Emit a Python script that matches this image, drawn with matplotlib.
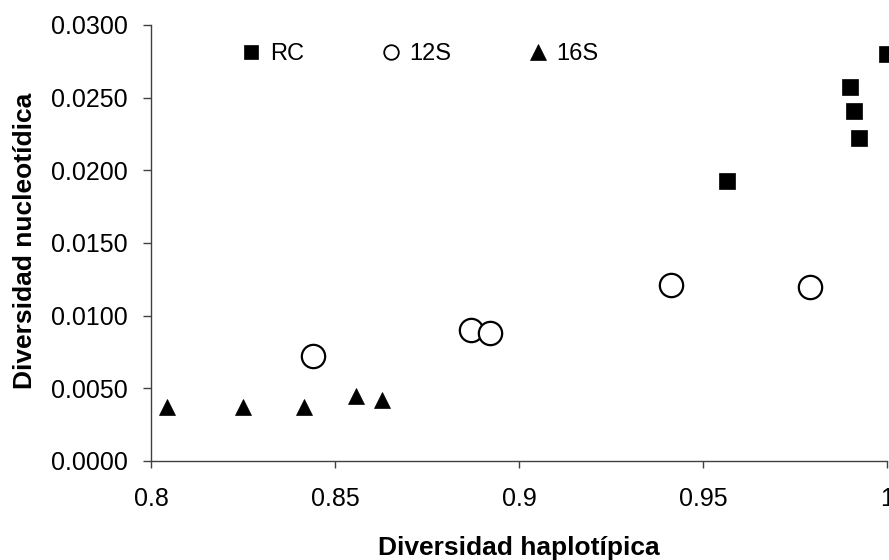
import matplotlib
matplotlib.use("Agg")
import matplotlib.pyplot as plt
from matplotlib.lines import Line2D
from matplotlib.ticker import FuncFormatter, MultipleLocator

plt.rcParams['font.family'] = ['Liberation Sans', 'DejaVu Sans']

# Data
rc_x = [0.9566, 0.9899, 0.9911, 0.9925, 1.0000]
rc_y = [0.0193, 0.0257, 0.0241, 0.0222, 0.0280]
s12_x = [0.8441, 0.8869, 0.8921, 0.9412, 0.9791]
s12_y = [0.0072, 0.0090, 0.0088, 0.0121, 0.0120]
s16_x = [0.8044, 0.8249, 0.8416, 0.8556, 0.8627]
s16_y = [0.0037, 0.0037, 0.0037, 0.0045, 0.0042]
series_names = ["RC", "12S", "16S"]
x_label = "Diversidad haplotípica"
y_label = "Diversidad nucleotídica"

fig = plt.figure(figsize=(8.89, 5.6), dpi=100)
ax = fig.add_axes([151/889, 1-461/560, (887-151)/889, (461-25)/560])

ax.plot(rc_x, rc_y, linestyle='none', marker='s', ms=11, mfc='black', mec='black', mew=0.5, clip_on=False, zorder=3)
ax.plot(s12_x, s12_y, linestyle='none', marker='o', ms=16.8, mfc='white', mec='black', mew=1.6, clip_on=False, zorder=3)
ax.plot(s16_x, s16_y, linestyle='none', marker='^', ms=11.5, mfc='black', mec='black', mew=0.5, clip_on=False, zorder=3)

ax.set_xlim(0.8, 1.0)
ax.set_ylim(0.0, 0.03)
ax.xaxis.set_major_locator(MultipleLocator(0.05))
ax.yaxis.set_major_locator(MultipleLocator(0.005))
ax.xaxis.set_major_formatter(FuncFormatter(lambda v, p: f"{v:.2f}".rstrip('0').rstrip('.')))
ax.yaxis.set_major_formatter(FuncFormatter(lambda v, p: f"{v:.4f}"))

for s in ['top', 'right']:
    ax.spines[s].set_visible(False)
for s in ['left', 'bottom']:
    ax.spines[s].set_color('#404040')
    ax.spines[s].set_linewidth(1.0)

ax.tick_params(axis='x', direction='out', length=5, width=1, color='#404040', pad=14, labelsize=18)
ax.tick_params(axis='y', direction='out', length=5.5, width=1, color='#404040', pad=11, labelsize=18)

ax.set_xlabel(x_label, fontsize=19, fontweight='bold')
ax.xaxis.label.set_va('baseline')
ax.xaxis.set_label_coords(0.5, (461-555)/436)
ax.set_ylabel(y_label, fontsize=19, fontweight='bold')
ax.yaxis.label.set_va('center')
ax.yaxis.set_label_coords((25-151)/736, (461-241)/436)

handles = [
    Line2D([], [], linestyle='none', marker='s', ms=10.5, mfc='black', mec='black', mew=0.5),
    Line2D([], [], linestyle='none', marker='o', ms=10.5, mfc='white', mec='black', mew=1.3),
    Line2D([], [], linestyle='none', marker='^', ms=11.5, mfc='black', mec='black', mew=0.5),
]
leg = fig.legend(handles, series_names, loc='center left', bbox_to_anchor=(242/889, 1-54/560),
                 ncol=3, frameon=False, fontsize=17, handlelength=0.8, handletextpad=0.37,
                 columnspacing=3.29, borderpad=0, borderaxespad=0)

fig.savefig("out.png", dpi=100)
